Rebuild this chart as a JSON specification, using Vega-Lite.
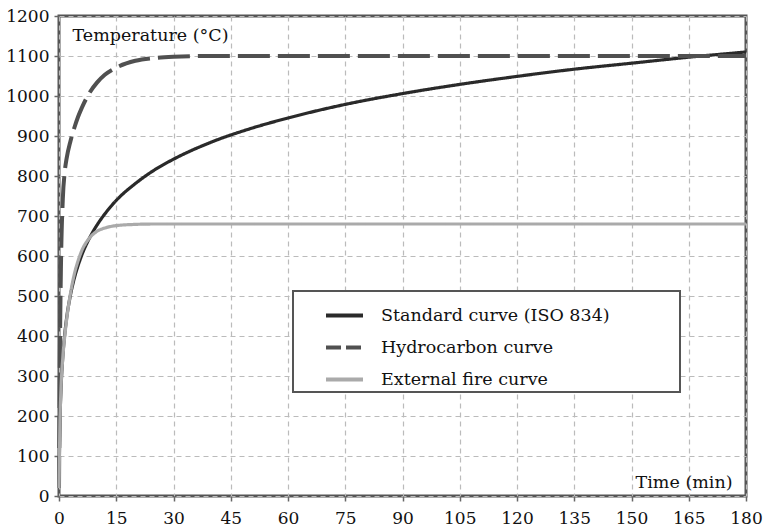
{
  "$schema": "https://vega.github.io/schema/vega-lite/v6.json",
  "width": 687,
  "height": 480,
  "autosize": {"type": "none"},
  "padding": {"left": 59, "top": 16, "right": 18, "bottom": 32},
  "background": "white",
  "config": {
    "font": "DejaVu Serif",
    "view": {"stroke": "#555", "strokeWidth": 3},
    "axis": {
      "labelFont": "DejaVu Serif",
      "titleFont": "DejaVu Serif",
      "labelColor": "#111",
      "titleColor": "#111",
      "labelFontSize": 17,
      "titleFontSize": 17.5,
      "titleFontWeight": "normal",
      "domain": false,
      "tickColor": "#666",
      "tickSize": 5,
      "tickWidth": 1.5,
      "grid": true,
      "gridColor": "#bbb",
      "gridDash": [5, 4],
      "gridWidth": 1.2
    },
    "legend": {
      "labelFont": "DejaVu Serif",
      "labelFontSize": 17.5,
      "labelColor": "#111",
      "labelLimit": 500
    }
  },
  "data": {
    "values": [
      {"t": 0, "T": 20, "s": "Standard curve (ISO 834)"},
      {"t": 0.25, "T": 185, "s": "Standard curve (ISO 834)"},
      {"t": 0.5, "T": 261, "s": "Standard curve (ISO 834)"},
      {"t": 1, "T": 349, "s": "Standard curve (ISO 834)"},
      {"t": 1.5, "T": 404, "s": "Standard curve (ISO 834)"},
      {"t": 2, "T": 445, "s": "Standard curve (ISO 834)"},
      {"t": 3, "T": 502, "s": "Standard curve (ISO 834)"},
      {"t": 4, "T": 544, "s": "Standard curve (ISO 834)"},
      {"t": 5, "T": 576, "s": "Standard curve (ISO 834)"},
      {"t": 6, "T": 603, "s": "Standard curve (ISO 834)"},
      {"t": 8, "T": 645, "s": "Standard curve (ISO 834)"},
      {"t": 10, "T": 678, "s": "Standard curve (ISO 834)"},
      {"t": 12, "T": 705, "s": "Standard curve (ISO 834)"},
      {"t": 15, "T": 739, "s": "Standard curve (ISO 834)"},
      {"t": 20, "T": 781, "s": "Standard curve (ISO 834)"},
      {"t": 25, "T": 815, "s": "Standard curve (ISO 834)"},
      {"t": 30, "T": 842, "s": "Standard curve (ISO 834)"},
      {"t": 40, "T": 885, "s": "Standard curve (ISO 834)"},
      {"t": 50, "T": 918, "s": "Standard curve (ISO 834)"},
      {"t": 60, "T": 945, "s": "Standard curve (ISO 834)"},
      {"t": 75, "T": 979, "s": "Standard curve (ISO 834)"},
      {"t": 90, "T": 1006, "s": "Standard curve (ISO 834)"},
      {"t": 105, "T": 1029, "s": "Standard curve (ISO 834)"},
      {"t": 120, "T": 1049, "s": "Standard curve (ISO 834)"},
      {"t": 135, "T": 1067, "s": "Standard curve (ISO 834)"},
      {"t": 150, "T": 1082, "s": "Standard curve (ISO 834)"},
      {"t": 165, "T": 1097, "s": "Standard curve (ISO 834)"},
      {"t": 180, "T": 1110, "s": "Standard curve (ISO 834)"},
      {"t": 0, "T": 20, "s": "Hydrocarbon curve"},
      {"t": 0.25, "T": 373, "s": "Hydrocarbon curve"},
      {"t": 0.5, "T": 568, "s": "Hydrocarbon curve"},
      {"t": 1, "T": 743, "s": "Hydrocarbon curve"},
      {"t": 1.5, "T": 810, "s": "Hydrocarbon curve"},
      {"t": 2, "T": 844, "s": "Hydrocarbon curve"},
      {"t": 3, "T": 887, "s": "Hydrocarbon curve"},
      {"t": 4, "T": 920, "s": "Hydrocarbon curve"},
      {"t": 5, "T": 948, "s": "Hydrocarbon curve"},
      {"t": 6, "T": 971, "s": "Hydrocarbon curve"},
      {"t": 8, "T": 1008, "s": "Hydrocarbon curve"},
      {"t": 10, "T": 1034, "s": "Hydrocarbon curve"},
      {"t": 12, "T": 1053, "s": "Hydrocarbon curve"},
      {"t": 15, "T": 1071, "s": "Hydrocarbon curve"},
      {"t": 20, "T": 1088, "s": "Hydrocarbon curve"},
      {"t": 25, "T": 1095, "s": "Hydrocarbon curve"},
      {"t": 30, "T": 1098, "s": "Hydrocarbon curve"},
      {"t": 40, "T": 1100, "s": "Hydrocarbon curve"},
      {"t": 60, "T": 1100, "s": "Hydrocarbon curve"},
      {"t": 90, "T": 1100, "s": "Hydrocarbon curve"},
      {"t": 120, "T": 1100, "s": "Hydrocarbon curve"},
      {"t": 150, "T": 1100, "s": "Hydrocarbon curve"},
      {"t": 180, "T": 1100, "s": "Hydrocarbon curve"},
      {"t": 0, "T": 20, "s": "External fire curve"},
      {"t": 0.25, "T": 182, "s": "External fire curve"},
      {"t": 0.5, "T": 263, "s": "External fire curve"},
      {"t": 1, "T": 346, "s": "External fire curve"},
      {"t": 1.5, "T": 399, "s": "External fire curve"},
      {"t": 2, "T": 441, "s": "External fire curve"},
      {"t": 3, "T": 506, "s": "External fire curve"},
      {"t": 4, "T": 554, "s": "External fire curve"},
      {"t": 5, "T": 588, "s": "External fire curve"},
      {"t": 6, "T": 614, "s": "External fire curve"},
      {"t": 8, "T": 645, "s": "External fire curve"},
      {"t": 10, "T": 662, "s": "External fire curve"},
      {"t": 12, "T": 670, "s": "External fire curve"},
      {"t": 15, "T": 676, "s": "External fire curve"},
      {"t": 20, "T": 679, "s": "External fire curve"},
      {"t": 25, "T": 680, "s": "External fire curve"},
      {"t": 30, "T": 680, "s": "External fire curve"},
      {"t": 60, "T": 680, "s": "External fire curve"},
      {"t": 90, "T": 680, "s": "External fire curve"},
      {"t": 120, "T": 680, "s": "External fire curve"},
      {"t": 150, "T": 680, "s": "External fire curve"},
      {"t": 180, "T": 680, "s": "External fire curve"}
    ]
  },
  "mark": {"type": "line", "interpolate": "monotone", "strokeCap": "butt"},
  "encoding": {
    "x": {
      "field": "t",
      "type": "quantitative",
      "scale": {"domain": [0, 180], "nice": false},
      "axis": {
        "values": [0, 15, 30, 45, 60, 75, 90, 105, 120, 135, 150, 165, 180],
        "format": "d",
        "title": "Time (min)",
        "titleAnchor": null,
        "titleAlign": "right",
        "titleBaseline": "middle",
        "titleX": 673,
        "titleY": -14,
        "labelPadding": 9,
        "labelFlush": false
      }
    },
    "y": {
      "field": "T",
      "type": "quantitative",
      "scale": {"domain": [0, 1200], "nice": false},
      "axis": {
        "values": [0, 100, 200, 300, 400, 500, 600, 700, 800, 900, 1000, 1100, 1200],
        "format": "d",
        "title": "Temperature (°C)",
        "titleAngle": 0,
        "titleAlign": "left",
        "titleBaseline": "middle",
        "titleX": 13,
        "titleY": 19,
        "labelPadding": 5,
        "labelFlush": false
      }
    },
    "color": {
      "field": "s",
      "type": "nominal",
      "scale": {
        "domain": ["Standard curve (ISO 834)", "Hydrocarbon curve", "External fire curve"],
        "range": ["#2a2a2a", "#505050", "#aaaaaa"]
      },
      "legend": {
        "title": "\u00a0",
        "titleOrient": "right",
        "titlePadding": 66,
        "titleFontSize": 4,
        "orient": "none",
        "legendX": 234,
        "legendY": 275,
        "padding": 4,
        "symbolOffset": 27,
        "labelOffset": 16,
        "symbolType": "stroke",
        "symbolSize": 1369,
        "symbolStrokeWidth": 4,
        "rowPadding": 3,
        "labelLimit": 500,
        "strokeColor": "#555",
        "fillColor": "white",
        "encode": {
          "legend": {"update": {"strokeWidth": {"value": 2}}},
          "symbols": {"update": {"strokeDash": {"signal": "datum.value === 'Hydrocarbon curve' ? [15, 5] : [1, 0]"}}}
        }
      }
    },
    "strokeDash": {
      "condition": {"test": "datum.s === 'Hydrocarbon curve'", "value": [32, 8]},
      "value": [1, 0]
    },
    "strokeWidth": {
      "condition": {"test": "datum.s === 'Hydrocarbon curve'", "value": 4},
      "value": 3.2
    }
  }
}
